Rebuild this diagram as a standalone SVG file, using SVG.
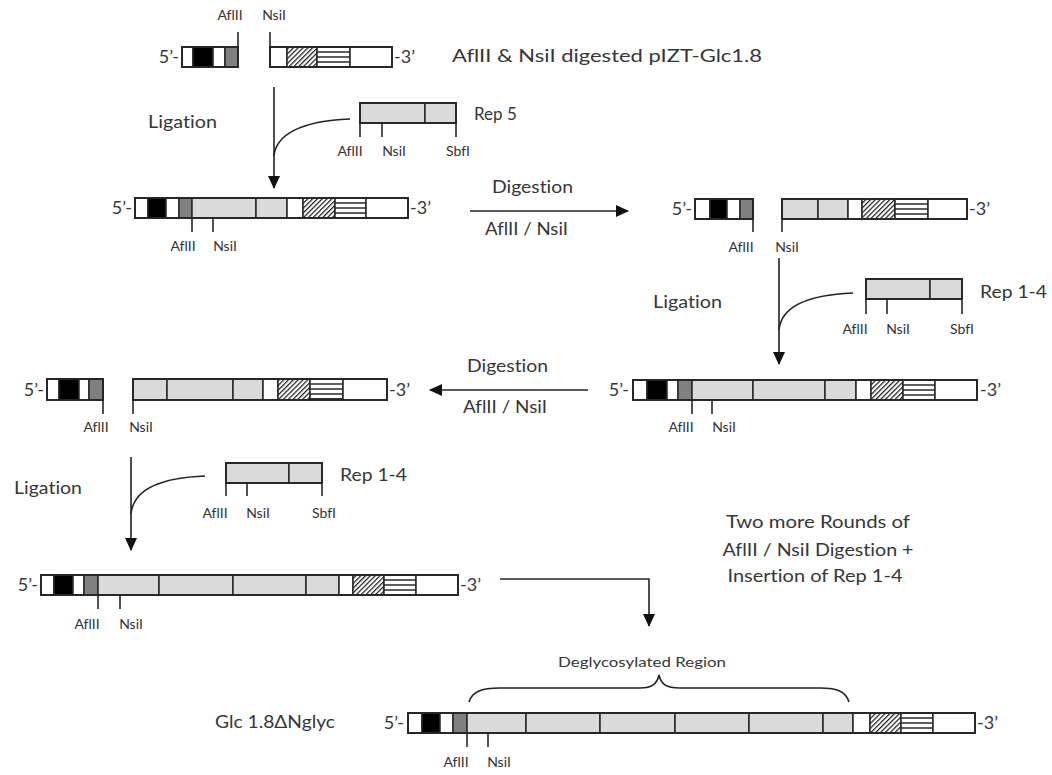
<svg xmlns="http://www.w3.org/2000/svg" width="1052" height="775" viewBox="0 0 1052 775">
  <defs>
    <!-- diagonal hatch used for the hatched block -->
    <pattern id="hatch" width="3.4" height="3.4" patternUnits="userSpaceOnUse" patternTransform="rotate(45)">
      <rect width="3.4" height="3.4" fill="#fff"/>
      <rect x="0" y="0" width="1.2" height="3.4" fill="#1a1a1a"/>
    </pattern>
    <!-- horizontal stripes (4 bands in a 20px tall box) -->
    <pattern id="stripes" width="10" height="5" patternUnits="userSpaceOnUse">
      <rect width="10" height="5" fill="#fff"/>
      <rect y="0" width="10" height="0.7" fill="#1a1a1a"/>
      <rect y="4.3" width="10" height="0.7" fill="#1a1a1a"/>
    </pattern>
    <marker id="ah" viewBox="0 0 13 12" refX="12" refY="6" markerWidth="13" markerHeight="12" markerUnits="userSpaceOnUse" orient="auto">
      <path d="M0,0 L13,6 L0,12 z" fill="#111"/>
    </marker>
  </defs>
  <style>
    text { font-family: Lato, "Noto Sans", "DejaVu Sans", sans-serif; fill: #363636; font-variant-ligatures: none; }
    .t18 { font-size: 18px; }
    .t17 { font-size: 17px; }
    .t13 { font-size: 14px; fill: #333; }
    .t14 { font-size: 14px; }
    .cs rect { stroke: #262626; stroke-width: 1.5; }
    .cs .out { fill: none; stroke: #262626; stroke-width: 1.9; }
    .w { fill: #fff; }
    .k { fill: #000; }
    .g { fill: #808080; }
    .lg { fill: #dadada; }
    .ht { fill: url(#hatch); }
    .st { fill: url(#stripes); }
    .tick { stroke: #262626; stroke-width: 1.6; }
    .conn { fill: none; stroke: #222; stroke-width: 1.6; }
  </style>
  <rect width="1052" height="775" fill="#fff"/>

  <!-- digested vector pIZT-Glc1.8 -->
  <g id="vector-digested" class="cs" transform="translate(0,47)">
    <rect class="w" x="182" y="0" width="11" height="20"/>
    <rect class="k" x="193" y="0" width="20" height="20"/>
    <rect class="w" x="213" y="0" width="12" height="20"/>
    <rect class="g" x="225" y="0" width="13" height="20"/>
    <rect class="out" x="182" y="0" width="56" height="20"/>
    <line class="tick" x1="238" y1="-15" x2="238" y2="0"/>
    <rect class="w" x="270" y="0" width="17" height="20"/>
    <rect class="ht" x="287" y="0" width="30" height="20"/>
    <rect class="st" x="317" y="0" width="33" height="20"/>
    <rect class="w" x="350" y="0" width="42" height="20"/>
    <rect class="out" x="270" y="0" width="122" height="20"/>
    <line class="tick" x1="270" y1="-15" x2="270" y2="0"/>
    <text class="t18" x="179" y="16" text-anchor="end">5’-</text>
    <text class="t18" x="394" y="16">-3’</text>
    <text class="t13" x="230" y="-27" text-anchor="middle">AflII</text>
    <text class="t13" x="274" y="-27" text-anchor="middle">NsiI</text>
    <text class="t18" x="452" y="15" textLength="310" lengthAdjust="spacingAndGlyphs">AflII &amp; NsiI  digested pIZT-Glc1.8</text>
  </g>

  <!-- Rep 5 insert -->
  <g id="rep5" class="cs" transform="translate(0,103)">
    <rect class="lg" x="360" y="0" width="65" height="20"/>
    <rect class="lg" x="425" y="0" width="31" height="20"/>
    <rect class="out" x="360" y="0" width="96" height="20"/>
    <line class="tick" x1="360" y1="20" x2="360" y2="34"/>
    <line class="tick" x1="382" y1="20" x2="382" y2="34"/>
    <line class="tick" x1="456" y1="20" x2="456" y2="34"/>
    <text class="t13" x="350" y="53" text-anchor="middle">AflII</text>
    <text class="t13" x="394" y="53" text-anchor="middle">NsiI</text>
    <text class="t13" x="458" y="53" text-anchor="middle">SbfI</text>
    <text class="t17" x="474" y="17">Rep 5</text>
  </g>

  <!-- vector with Rep 5 -->
  <g id="construct-rep5" class="cs" transform="translate(0,198)">
    <rect class="w" x="135" y="0" width="13" height="20"/>
    <rect class="k" x="148" y="0" width="18" height="20"/>
    <rect class="w" x="166" y="0" width="13" height="20"/>
    <rect class="g" x="179" y="0" width="13" height="20"/>
    <rect class="lg" x="192" y="0" width="64" height="20"/>
    <rect class="lg" x="256" y="0" width="31" height="20"/>
    <rect class="w" x="287" y="0" width="16" height="20"/>
    <rect class="ht" x="303" y="0" width="32" height="20"/>
    <rect class="st" x="335" y="0" width="31" height="20"/>
    <rect class="w" x="366" y="0" width="42" height="20"/>
    <rect class="out" x="135" y="0" width="273" height="20"/>
    <line class="tick" x1="192" y1="20" x2="192" y2="34"/>
    <line class="tick" x1="213" y1="20" x2="213" y2="34"/>
    <text class="t18" x="132" y="16" text-anchor="end">5’-</text>
    <text class="t18" x="410" y="16">-3’</text>
    <text class="t13" x="183" y="53" text-anchor="middle">AflII</text>
    <text class="t13" x="225" y="53" text-anchor="middle">NsiI</text>
  </g>

  <!-- digested vector carrying Rep 5 -->
  <g id="construct-rep5-digested" class="cs" transform="translate(0,199)">
    <rect class="w" x="695" y="0" width="15" height="20"/>
    <rect class="k" x="710" y="0" width="17" height="20"/>
    <rect class="w" x="727" y="0" width="13" height="20"/>
    <rect class="g" x="740" y="0" width="13" height="20"/>
    <rect class="out" x="695" y="0" width="58" height="20"/>
    <line class="tick" x1="753" y1="0" x2="753" y2="33"/>
    <rect class="lg" x="782" y="0" width="36" height="20"/>
    <rect class="lg" x="818" y="0" width="30" height="20"/>
    <rect class="w" x="848" y="0" width="14" height="20"/>
    <rect class="ht" x="862" y="0" width="33" height="20"/>
    <rect class="st" x="895" y="0" width="33" height="20"/>
    <rect class="w" x="928" y="0" width="39" height="20"/>
    <rect class="out" x="782" y="0" width="185" height="20"/>
    <line class="tick" x1="782" y1="0" x2="782" y2="33"/>
    <text class="t18" x="692" y="16" text-anchor="end">5’-</text>
    <text class="t18" x="969" y="16">-3’</text>
    <text class="t13" x="741" y="53" text-anchor="middle">AflII</text>
    <text class="t13" x="787" y="53" text-anchor="middle">NsiI</text>
  </g>

  <!-- Rep 1-4 insert (first) -->
  <g id="rep14-a" class="cs" transform="translate(0,279)">
    <rect class="lg" x="866" y="0" width="64" height="20"/>
    <rect class="lg" x="930" y="0" width="32" height="20"/>
    <rect class="out" x="866" y="0" width="96" height="20"/>
    <line class="tick" x1="866" y1="20" x2="866" y2="35"/>
    <line class="tick" x1="887" y1="20" x2="887" y2="35"/>
    <line class="tick" x1="962" y1="20" x2="962" y2="35"/>
    <text class="t13" x="855" y="55" text-anchor="middle">AflII</text>
    <text class="t13" x="898" y="55" text-anchor="middle">NsiI</text>
    <text class="t13" x="962" y="55" text-anchor="middle">SbfI</text>
    <text class="t18" x="980" y="19" textLength="67" lengthAdjust="spacingAndGlyphs">Rep 1-4</text>
  </g>

  <!-- vector with Rep 1-4 + Rep 5 -->
  <g id="construct-rep14-rep5" class="cs" transform="translate(0,380)">
    <rect class="w" x="633" y="0" width="14" height="20"/>
    <rect class="k" x="647" y="0" width="20" height="20"/>
    <rect class="w" x="667" y="0" width="11" height="20"/>
    <rect class="g" x="678" y="0" width="14" height="20"/>
    <rect class="lg" x="692" y="0" width="61" height="20"/>
    <rect class="lg" x="753" y="0" width="72" height="20"/>
    <rect class="lg" x="825" y="0" width="31" height="20"/>
    <rect class="w" x="856" y="0" width="15" height="20"/>
    <rect class="ht" x="871" y="0" width="32" height="20"/>
    <rect class="st" x="903" y="0" width="32" height="20"/>
    <rect class="w" x="935" y="0" width="42" height="20"/>
    <rect class="out" x="633" y="0" width="344" height="20"/>
    <line class="tick" x1="692" y1="20" x2="692" y2="34"/>
    <line class="tick" x1="712" y1="20" x2="712" y2="34"/>
    <text class="t18" x="629" y="16" text-anchor="end">5’-</text>
    <text class="t18" x="980" y="16">-3’</text>
    <text class="t13" x="681" y="52" text-anchor="middle">AflII</text>
    <text class="t13" x="724" y="52" text-anchor="middle">NsiI</text>
  </g>

  <!-- digested vector carrying Rep 1-4 + Rep 5 -->
  <g id="construct-rep14-rep5-digested" class="cs" transform="translate(0,379)">
    <rect class="w" x="47" y="0" width="12" height="21"/>
    <rect class="k" x="59" y="0" width="20" height="21"/>
    <rect class="w" x="79" y="0" width="10" height="21"/>
    <rect class="g" x="89" y="0" width="14" height="21"/>
    <rect class="out" x="47" y="0" width="56" height="21"/>
    <line class="tick" x1="103" y1="0" x2="103" y2="35"/>
    <rect class="lg" x="133" y="0" width="34" height="21"/>
    <rect class="lg" x="167" y="0" width="66" height="21"/>
    <rect class="lg" x="233" y="0" width="30" height="21"/>
    <rect class="w" x="263" y="0" width="15" height="21"/>
    <rect class="ht" x="278" y="0" width="32" height="21"/>
    <rect class="st" x="310" y="0" width="33" height="20"/>
    <rect class="w" x="343" y="0" width="44" height="21"/>
    <rect class="out" x="133" y="0" width="254" height="21"/>
    <line class="tick" x1="133" y1="0" x2="133" y2="35"/>
    <text class="t18" x="44" y="17" text-anchor="end">5’-</text>
    <text class="t18" x="389" y="17">-3’</text>
    <text class="t13" x="96" y="53" text-anchor="middle">AflII</text>
    <text class="t13" x="141" y="53" text-anchor="middle">NsiI</text>
  </g>

  <!-- Rep 1-4 insert (second) -->
  <g id="rep14-b" class="cs" transform="translate(0,463)">
    <rect class="lg" x="226" y="0" width="63" height="20"/>
    <rect class="lg" x="289" y="0" width="33" height="20"/>
    <rect class="out" x="226" y="0" width="96" height="20"/>
    <line class="tick" x1="226" y1="20" x2="226" y2="33"/>
    <line class="tick" x1="247" y1="20" x2="247" y2="33"/>
    <line class="tick" x1="322" y1="20" x2="322" y2="33"/>
    <text class="t13" x="215" y="55" text-anchor="middle">AflII</text>
    <text class="t13" x="258" y="55" text-anchor="middle">NsiI</text>
    <text class="t13" x="324" y="55" text-anchor="middle">SbfI</text>
    <text class="t18" x="340" y="18" textLength="67" lengthAdjust="spacingAndGlyphs">Rep 1-4</text>
  </g>

  <!-- vector with two Rep 1-4 + Rep 5 -->
  <g id="construct-2x-rep14-rep5" class="cs" transform="translate(0,575)">
    <rect class="w" x="41" y="0" width="13" height="20"/>
    <rect class="k" x="54" y="0" width="19" height="20"/>
    <rect class="w" x="73" y="0" width="11" height="20"/>
    <rect class="g" x="84" y="0" width="14" height="20"/>
    <rect class="lg" x="98" y="0" width="61" height="20"/>
    <rect class="lg" x="159" y="0" width="74" height="20"/>
    <rect class="lg" x="233" y="0" width="73" height="20"/>
    <rect class="lg" x="306" y="0" width="33" height="20"/>
    <rect class="w" x="339" y="0" width="14" height="20"/>
    <rect class="ht" x="353" y="0" width="31" height="20"/>
    <rect class="st" x="384" y="0" width="32" height="20"/>
    <rect class="w" x="416" y="0" width="42" height="20"/>
    <rect class="out" x="41" y="0" width="417" height="20"/>
    <line class="tick" x1="98" y1="20" x2="98" y2="34"/>
    <line class="tick" x1="120" y1="20" x2="120" y2="34"/>
    <text class="t18" x="38" y="16" text-anchor="end">5’-</text>
    <text class="t18" x="460" y="16">-3’</text>
    <text class="t13" x="87" y="54" text-anchor="middle">AflII</text>
    <text class="t13" x="131" y="54" text-anchor="middle">NsiI</text>
  </g>

  <!-- remaining rounds note -->
  <g id="note-rounds">
    <text class="t18" x="818" y="528" text-anchor="middle" textLength="184" lengthAdjust="spacingAndGlyphs">Two more Rounds of</text>
    <text class="t18" x="818" y="556" text-anchor="middle" textLength="191" lengthAdjust="spacingAndGlyphs">AflII / NsiI  Digestion +</text>
    <text class="t18" x="815" y="582" text-anchor="middle" textLength="175" lengthAdjust="spacingAndGlyphs">Insertion of Rep 1-4</text>
  </g>

  <!-- final construct Glc 1.8ΔNglyc -->
  <g id="construct-final" class="cs" transform="translate(0,713)">
    <rect class="w" x="408" y="0" width="14" height="20"/>
    <rect class="k" x="422" y="0" width="18" height="20"/>
    <rect class="w" x="440" y="0" width="13" height="20"/>
    <rect class="g" x="453" y="0" width="14" height="20"/>
    <rect class="lg" x="467" y="0" width="59" height="20"/>
    <rect class="lg" x="526" y="0" width="74" height="20"/>
    <rect class="lg" x="600" y="0" width="75" height="20"/>
    <rect class="lg" x="675" y="0" width="74" height="20"/>
    <rect class="lg" x="749" y="0" width="74" height="20"/>
    <rect class="lg" x="823" y="0" width="30" height="20"/>
    <rect class="w" x="853" y="0" width="17" height="20"/>
    <rect class="ht" x="870" y="0" width="31" height="20"/>
    <rect class="st" x="901" y="0" width="32" height="20"/>
    <rect class="w" x="933" y="0" width="42" height="20"/>
    <rect class="out" x="408" y="0" width="567" height="20"/>
    <line class="tick" x1="467" y1="20" x2="467" y2="34"/>
    <line class="tick" x1="488" y1="20" x2="488" y2="34"/>
    <text class="t18" x="404" y="16" text-anchor="end">5’-</text>
    <text class="t18" x="977" y="16">-3’</text>
    <text class="t13" x="456" y="54" text-anchor="middle">AflII</text>
    <text class="t13" x="499" y="54" text-anchor="middle">NsiI</text>
    <text class="t18" x="215" y="15" textLength="120" lengthAdjust="spacingAndGlyphs">Glc 1.8ΔNglyc</text>
  </g>

  <!-- deglycosylated region brace -->
  <g id="brace-deglycosylated">
    <path class="conn" stroke-width="1.4" d="M469,702 C472,692 481,688 500,688 H640 C652,688 657,684 659,675 C661,684 666,688 680,688 H820 C838,688 846,692 849,702"/>
    <text class="t14" x="642" y="667" text-anchor="middle" textLength="168" lengthAdjust="spacingAndGlyphs">Deglycosylated Region</text>
  </g>

  <!-- step labels -->
  <g id="step-labels">
    <text class="t18" x="148" y="128" textLength="69" lengthAdjust="spacingAndGlyphs">Ligation</text>
    <text class="t18" x="492" y="193" textLength="81" lengthAdjust="spacingAndGlyphs">Digestion</text>
    <text class="t18" x="485" y="235" textLength="83" lengthAdjust="spacingAndGlyphs">AflII / NsiI</text>
    <text class="t18" x="653" y="308" textLength="69" lengthAdjust="spacingAndGlyphs">Ligation</text>
    <text class="t18" x="467" y="372" textLength="81" lengthAdjust="spacingAndGlyphs">Digestion</text>
    <text class="t18" x="463" y="413" textLength="84" lengthAdjust="spacingAndGlyphs">AflII / NsiI</text>
    <text class="t18" x="14" y="494" textLength="68" lengthAdjust="spacingAndGlyphs">Ligation</text>
  </g>

  <!-- connectors -->
  <g id="connectors">
    <path class="conn" d="M274,87 V188" marker-end="url(#ah)"/>
    <path class="conn" stroke-width="1.3" d="M350,119 C300,121 276,135 274,156"/>
    <path class="conn" d="M470,211 H628" marker-end="url(#ah)"/>
    <path class="conn" d="M779,258 V364" marker-end="url(#ah)"/>
    <path class="conn" stroke-width="1.3" d="M853,293 C803,295 781,309 779,330"/>
    <path class="conn" d="M588,390 H430" marker-end="url(#ah)"/>
    <path class="conn" d="M131,457 V550" marker-end="url(#ah)"/>
    <path class="conn" stroke-width="1.3" d="M205,476 C155,478 133,492 131,514"/>
    <path class="conn" d="M500,579 H649 V626" marker-end="url(#ah)"/>
  </g>
</svg>
